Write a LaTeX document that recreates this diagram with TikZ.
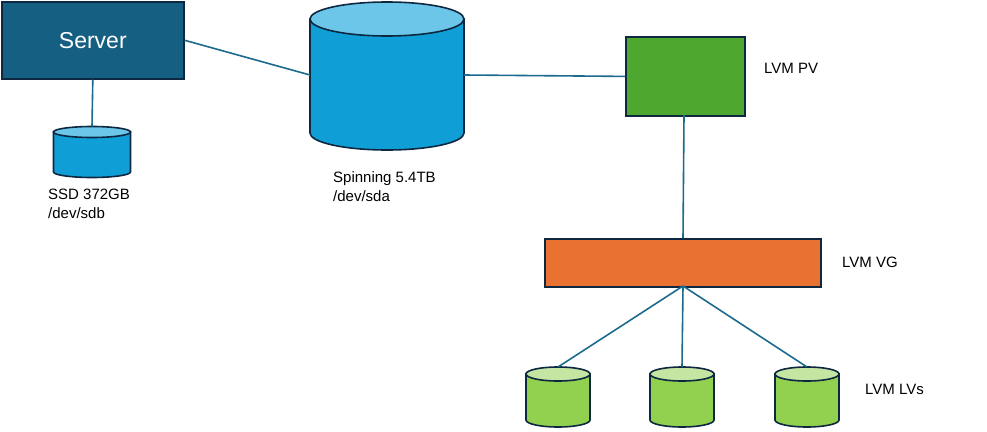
\documentclass[tikz,border=0pt]{standalone}
\usepackage{fontspec}
\setmainfont{Liberation Sans}
\definecolor{srvfill}{HTML}{156082}
\definecolor{edge}{HTML}{0E2841}
\definecolor{wire}{HTML}{1C6A8E}
\definecolor{bluebody}{HTML}{109ED6}
\definecolor{bluetop}{HTML}{6CC6EA}
\definecolor{greenbody}{HTML}{92D050}
\definecolor{greentop}{HTML}{C4E6A2}
\definecolor{pvgreen}{HTML}{4EA72E}
\definecolor{vgorange}{HTML}{E97132}
\newcommand\mycyl[7]{%
  \path[draw=edge, line width=1.6pt, fill=#7body] (#2-#5,#3) -- (#2-#5,#4)
    arc[start angle=180, end angle=360, x radius=#5pt, y radius=#6pt] -- (#2+#5,#3) -- cycle;
  \path[draw=edge, line width=1.6pt, fill=#7top] (#2,#3) ellipse[x radius=#5pt, y radius=#6pt];
  \coordinate (#1) at (#2,#3+#6);
  \coordinate (#1-w) at (#2-#5,#3);
  \coordinate (#1-e) at (#2+#5,#3);
}
\tikzset{
  wireline/.style={draw=wire, line width=1.6pt},
  boxnode/.style={draw=edge, line width=1.8pt, inner sep=0pt, anchor=north west},
  lbl/.style={font=\fontsize{15}{19.5}\selectfont, text=black, inner sep=0pt, anchor=base west, align=left},
}
\begin{document}
\begin{tikzpicture}[x=1pt,y=1pt]
\useasboundingbox (0,0) rectangle (987,-431);
% server
\node[boxnode, fill=srvfill, minimum width=182pt, minimum height=77pt,
      text=white, font=\fontsize{23}{26}\selectfont] (server) at (0.9,-0.9) {Server};
% SSD
\mycyl{sdb}{92}{-132}{-172}{38.5}{5.5}{blue}
\node[lbl] (sdbtxt) at (48,-218.5) {SSD 372GB\\/dev/sdb};
% big disk
\mycyl{sda}{387}{-19}{-133}{77}{17}{blue}
\coordinate (sdaw) at (310,-75);
\coordinate (sdae) at (464,-75);
\node[lbl] (sdatxt) at (333,-201.5) {Spinning 5.4TB\\/dev/sda};
% PV
\node[boxnode, fill=pvgreen, minimum width=119pt, minimum height=79pt] (pv) at (625,-36) {};
\node[lbl] (pvtxt) at (764,-73) {LVM PV};
% VG
\node[boxnode, fill=vgorange, minimum width=276pt, minimum height=48pt] (vg) at (544,-238) {};
\node[lbl] (vgtxt) at (842,-267) {LVM VG};
% LVs
\mycyl{lva}{558}{-374}{-420}{32}{7}{green}
\mycyl{lvb}{682}{-374}{-420}{32}{7}{green}
\mycyl{lvc}{807}{-374}{-420}{32}{7}{green}
\node[lbl] (lvtxt) at (865,-394) {LVM LVs};
% connectors
\coordinate (vgtop) at (683,-238);
\coordinate (vgbot) at (683,-286);
\coordinate (pvbot) at (684,-115);
\draw[wireline] (server.south) -- (sdb);
\draw[wireline] (server.east) -- (sdaw);
\draw[wireline] (sdae) -- (pv.west);
\draw[wireline] (pvbot) -- (vgtop);
\draw[wireline] (vgbot) -- (lva);
\draw[wireline] (vgbot) -- (lvb);
\draw[wireline] (vgbot) -- (lvc);
\end{tikzpicture}
\end{document}
